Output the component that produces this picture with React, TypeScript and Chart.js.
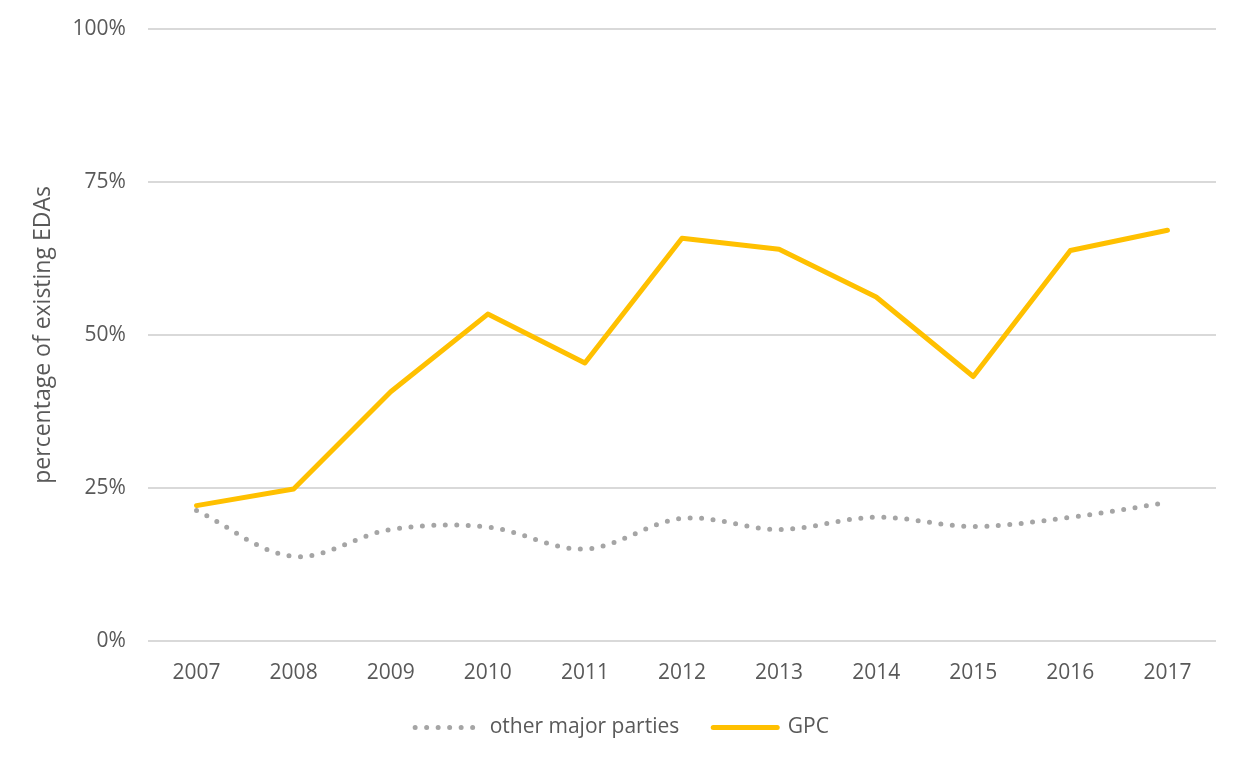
import React, { useEffect, useRef } from "react";
import { Chart, registerables } from "chart.js";

Chart.register(...registerables);

const years = ["2007", "2008", "2009", "2010", "2011", "2012", "2013", "2014", "2015", "2016", "2017"];
const otherMajor = [21.3, 13.8, 18.2, 18.6, 15.0, 20.0, 18.2, 20.2, 18.7, 20.2, 22.6];
const gpc = [22.1, 24.8, 40.7, 53.4, 45.4, 65.8, 64.0, 56.2, 43.2, 63.8, 67.1];
const yTicks = [0, 25, 50, 75, 100];

const FONT = "'Open Sans', 'Noto Sans', sans-serif";
const TEXT = "#595959";

export default function App() {
  const ref = useRef<HTMLCanvasElement | null>(null);
  useEffect(() => {
    if (!ref.current) return;
    const chart = new Chart(ref.current, {
      type: "line",
      data: {
        labels: years,
        datasets: [
          {
            label: "other major parties",
            data: otherMajor,
            borderColor: "#A5A5A5",
            backgroundColor: "#A5A5A5",
            borderWidth: 5,
            borderDash: [0, 11.5],
            borderCapStyle: "round",
            tension: 0.35,
            pointRadius: 0,
            order: 1,
          },
          {
            label: "GPC",
            data: gpc,
            borderColor: "#FFC000",
            backgroundColor: "#FFC000",
            borderWidth: 5,
            borderCapStyle: "round",
            borderJoinStyle: "round",
            tension: 0,
            pointRadius: 0,
            order: 0,
          },
        ],
      },
      options: {
        responsive: false,
        animation: false,
        layout: { padding: { top: 29, right: 28, left: 28, bottom: 15 } },
        plugins: {
          tooltip: { enabled: false },
          legend: {
            position: "bottom",
            labels: {
              usePointStyle: true,
              pointStyle: "line",
              pointStyleWidth: 64,
              padding: 34,
              color: TEXT,
              font: { family: FONT, size: 21 },
              sort: (a: any, b: any) => a.datasetIndex - b.datasetIndex,
              generateLabels: (c: any) =>
                c.data.datasets.map((ds: any, i: number) => ({
                  text: ds.label,
                  fillStyle: ds.borderColor,
                  strokeStyle: ds.borderColor,
                  lineWidth: 5,
                  lineDash: i === 0 ? [0, 11.5] : [],
                  lineCap: "round",
                  pointStyle: "line",
                  datasetIndex: i,
                  hidden: false,
                  fontColor: TEXT,
                })),
            },
          },
        },
        scales: {
          x: {
            offset: true,
            grid: { display: false },
            border: { display: false },
            ticks: { color: TEXT, font: { family: FONT, size: 21 }, padding: 12 },
            afterFit: (axis: any) => {
              axis.height = axis.height - 15;
            },
          },
          y: {
            min: 0,
            max: 100,
            afterBuildTicks: (axis: any) => {
              axis.ticks = yTicks.map((v) => ({ value: v }));
            },
            afterFit: (axis: any) => {
              axis.paddingTop = 0;
              axis.paddingBottom = 0;
            },
            grid: { color: "#D9D9D9", lineWidth: 2, drawTicks: false },
            border: { display: false },
            ticks: {
              color: TEXT,
              font: { family: FONT, size: 21 },
              padding: 22,
              callback: (v: any) => v + "%",
            },
            title: {
              display: true,
              text: "percentage of existing EDAs",
              color: TEXT,
              font: { family: FONT, size: 23 },
              padding: { top: 2, bottom: -7 },
            },
          },
        },
      },
    });
    return () => chart.destroy();
  }, []);
  return (
    <div style={{ position: "fixed", left: 0, top: 0, width: 1244, height: 763, background: "#fff" }}>
      <canvas ref={ref} width={1244} height={763} />
    </div>
  );
}
